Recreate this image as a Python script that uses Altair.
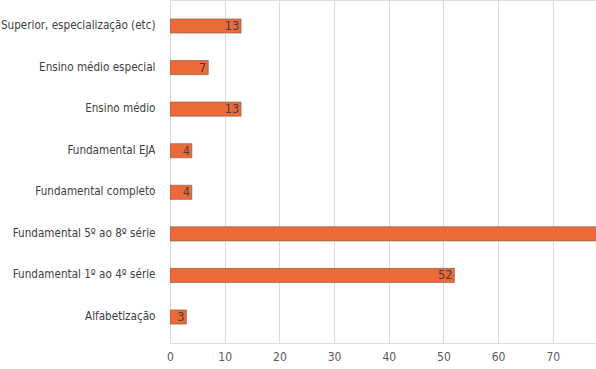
import altair as alt
import pandas as pd

categories = [
    "Superior, especialização (etc)",
    "Ensino médio especial",
    "Ensino médio",
    "Fundamental EJA",
    "Fundamental completo",
    "Fundamental 5º ao 8º série",
    "Fundamental 1º ao 4º série",
    "Alfabetização",
]
values = [13, 7, 13, 4, 4, 95, 52, 3]
x_ticks = [0, 10, 20, 30, 40, 50, 60, 70]

df = pd.DataFrame({"cat": categories, "val": values})

FONT = "DejaVu Sans Condensed, Liberation Sans, sans-serif"

x_enc = alt.X(
    "val:Q",
    scale=alt.Scale(domain=[0, 77.9], nice=False, zero=True),
    axis=alt.Axis(
        values=x_ticks, title=None, domain=False, ticks=False,
        labelFont=FONT, labelFontSize=12, labelColor="#595959",
        labelPadding=8, labelFlush=False, gridColor="#d9d9d9", gridWidth=1,
    ),
)
y_enc = alt.Y(
    "cat:N", sort=categories,
    scale=alt.Scale(paddingInner=0.66, paddingOuter=0.455),
    axis=alt.Axis(
        title=None, domain=False, ticks=False, labelFont=FONT,
        labelFontSize=11.6, labelColor="#404040", labelPadding=15,
        labelLimit=300,
    ),
)

bars = alt.Chart(df).mark_bar(
    color="#EC6A37", stroke="#7a5a4a", strokeWidth=0.6, clip=True
).encode(x=x_enc, y=y_enc)

labels = alt.Chart(df).transform_filter(
    alt.datum.val <= 77
).mark_text(
    align="right", baseline="middle", dx=-2, font=FONT, fontSize=12.5,
    color="#404040"
).encode(x="val:Q", y=alt.Y("cat:N", sort=categories), text="val:Q")

chart = (bars + labels).properties(
    width=426, height=343,
    autosize=alt.AutoSizeParams(type="none"),
    padding={"left": 170, "top": 0, "right": 0, "bottom": 26},
).configure_view(stroke=None).configure(background="white")

chart.save("out.html", embed_options={"renderer": "svg", "actions": False})
